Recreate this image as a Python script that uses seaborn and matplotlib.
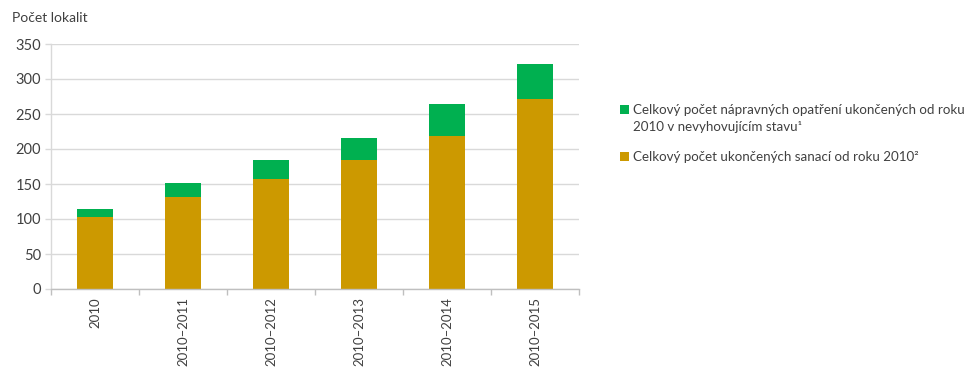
import matplotlib
matplotlib.use("Agg")
import matplotlib.pyplot as plt
import seaborn as sns
import pandas as pd
import numpy as np
from matplotlib.patches import Patch

categories = ["2010", "2010–2011", "2010–2012", "2010–2013", "2010–2014", "2010–2015"]
sanace = [103, 131, 157, 184, 218, 271]          # orange
napravna = [11, 20, 27, 32, 46, 50]              # green (on top)
yticks = [0, 50, 100, 150, 200, 250, 300, 350]

green = "#00B050"
gold = "#CC9900"
txt = "#404040"

sns.set_theme(style="white")
plt.rcParams["font.family"] = ["Lato", "DejaVu Sans"]

df = pd.DataFrame({"kat": categories, "sanace": sanace, "napravna": napravna})
df["celkem"] = df["sanace"] + df["napravna"]

fig = plt.figure(figsize=(9.75, 3.67), dpi=100)
ax = fig.add_axes([51/975, 1-289/367, (579-51)/975, (289-44)/367])

sns.barplot(data=df, x="kat", y="celkem", color=green, width=0.4, ax=ax,
            saturation=1, linewidth=0, edgecolor="none")
sns.barplot(data=df, x="kat", y="sanace", color=gold, width=0.4, ax=ax,
            saturation=1, linewidth=0, edgecolor="none")

ax.set_ylim(0, 350)
ax.set_xlim(-0.5, len(categories) - 0.5)
ax.set_yticks(yticks)
ax.set_yticklabels([str(v) for v in yticks], fontsize=10.5, color=txt)
ax.yaxis.grid(True, color="#d9d9d9", linewidth=1)
ax.set_axisbelow(True)
ax.set_xlabel("")
ax.set_ylabel("")

ax.set_xticks(range(len(categories)))
ax.set_xticklabels(categories, rotation=90, fontsize=9.5, color=txt, va="top")
ax.tick_params(axis="x", which="major", length=0, pad=6)
ax.set_xticks(np.arange(-0.5, len(categories), 1.0), minor=True)
ax.tick_params(axis="x", which="minor", length=4, color="#bfbfbf", width=1, bottom=True)
ax.tick_params(axis="y", length=4, color="#d9d9d9", width=1, left=True, pad=3)

for s in ["top", "right"]:
    ax.spines[s].set_visible(False)
ax.spines["left"].set_color("#d9d9d9")
ax.spines["bottom"].set_color("#bfbfbf")
ax.spines["left"].set_linewidth(1)
ax.spines["bottom"].set_linewidth(1)

fig.text(12/975, 1-18/367, "Počet lokalit", fontsize=10, color=txt, va="center", ha="left")

labels = [
    "Celkový počet nápravných opatření ukončených od roku",
    "2010 v nevyhovujícím stavu¹",
    "Celkový počet ukončených sanací od roku 2010²",
]
common = dict(frameon=False, fontsize=9.6, handlelength=0.7, handleheight=0.7,
              handletextpad=0.3, labelcolor=txt, borderpad=0, borderaxespad=0)
fig.legend([Patch(facecolor=green, edgecolor="none"), Patch(facecolor="none", edgecolor="none")],
           labels[:2], loc="upper left", bbox_to_anchor=(620/975, 1-104/367),
           labelspacing=0.4, **common)
fig.legend([Patch(facecolor=gold, edgecolor="none")], labels[2:], loc="upper left",
           bbox_to_anchor=(620/975, 1-151/367), **common)

fig.savefig("out.png", dpi=100)
